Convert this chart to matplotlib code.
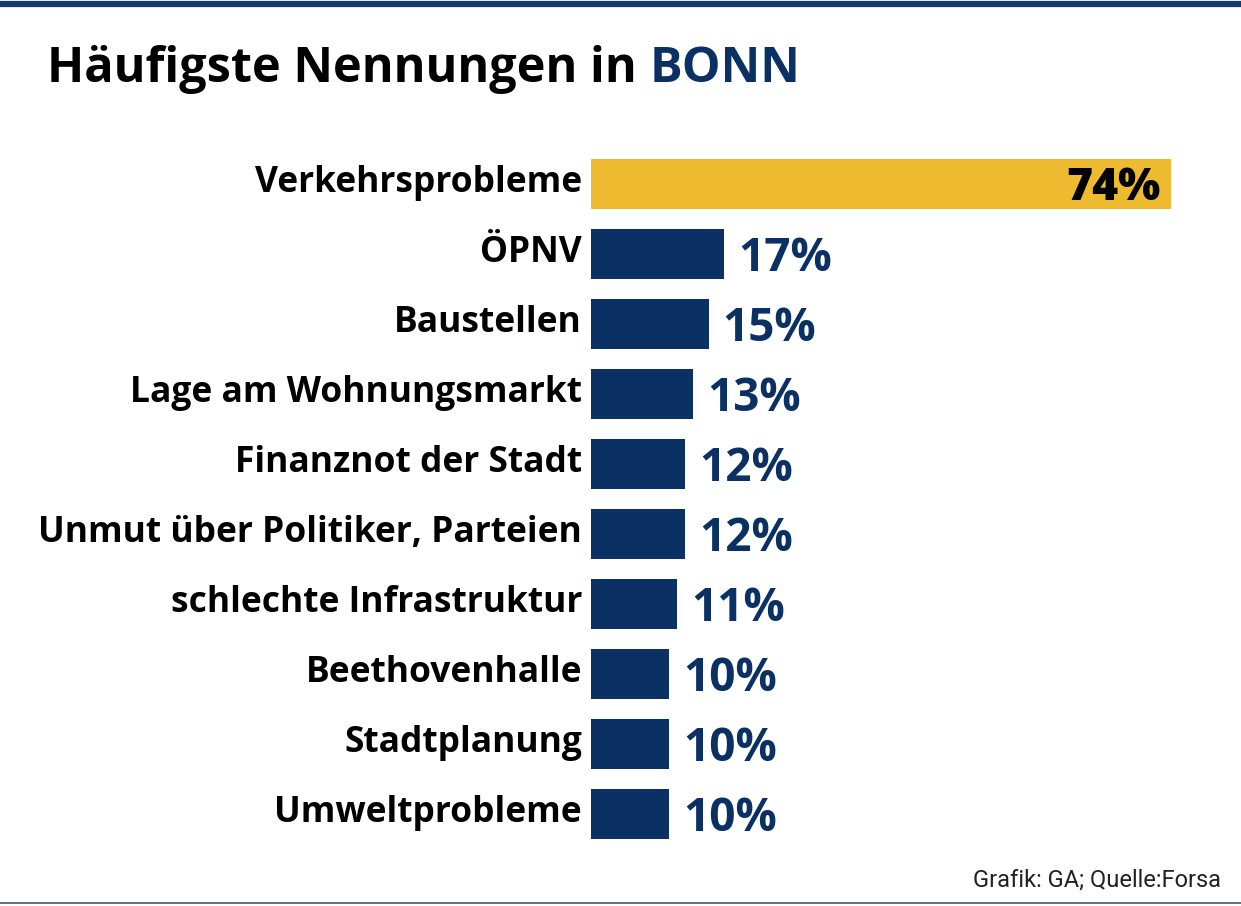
import matplotlib.pyplot as plt
from matplotlib.lines import Line2D

# data
categories = ['Verkehrsprobleme', 'ÖPNV', 'Baustellen', 'Lage am Wohnungsmarkt',
              'Finanznot der Stadt', 'Unmut über Politiker, Parteien',
              'schlechte Infrastruktur', 'Beethovenhalle', 'Stadtplanung',
              'Umweltprobleme']
values = [74, 17, 15, 13, 12, 12, 11, 10, 10, 10]
value_labels = ['74%', '17%', '15%', '13%', '12%', '12%', '11%', '10%', '10%', '10%']

NAVY = '#0b3063'
GOLD = '#edba30'
W, H = 1241, 906

fig = plt.figure(figsize=(W / 100, H / 100), dpi=100)

# axes placed in pixel coords: bars start at x=591, 74% ends at x=1171
x0, x1 = 591, 1171
y_top, y_bot = 149, 849
ax = fig.add_axes([x0 / W, 1 - y_bot / H, (x1 - x0) / W, (y_bot - y_top) / H])
ax.set_xlim(0, 74)
ax.set_ylim(len(values) - 0.5, -0.5)
ax.axis('off')

colors = [GOLD] + [NAVY] * (len(values) - 1)
ax.barh(range(len(values)), values, height=50 / 70, color=colors)

font = ['Open Sans', 'DejaVu Sans']
for i, (cat, v, lab) in enumerate(zip(categories, values, value_labels)):
    ax.text(-1.15, i - 0.02, cat, ha='right', va='center', fontsize=25.5,
            fontweight='bold', family=font, color='black')
    if i == 0:
        ax.text(v - 1.4, i + 0.06, lab, ha='right', va='center', fontsize=32,
                fontweight='heavy', family=font, color='black')
    else:
        ax.text(v + 1.8, i + 0.06, lab, ha='left', va='center', fontsize=33,
                fontweight='bold', family=font, color=NAVY)

# title
title_left = fig.text(47 / W, 1 - 82 / H, 'Häufigste Nennungen in ', fontsize=35,
                      fontweight='bold', family=font, color='black', va='baseline')
fig.canvas.draw()
bb = title_left.get_window_extent()
fig.text(bb.x1 / W, 1 - 82 / H, 'BONN', fontsize=35, fontweight='bold',
         family=font, color=NAVY, va='baseline')

# source
fig.text(1221 / W, 1 - 887 / H, 'Grafik: GA; Quelle:Forsa', fontsize=17,
         family=['Roboto', 'DejaVu Sans'], ha='right',
         va='baseline', color='#222222')

# top and bottom rules
fig.add_artist(Line2D([0, 1], [1 - 4 / H, 1 - 4 / H], transform=fig.transFigure,
                      color='#133a6a', linewidth=4.5))
fig.add_artist(Line2D([0, 1], [1 - 903 / H, 1 - 903 / H], transform=fig.transFigure,
                      color='#4a5a6e', linewidth=1.2))

fig.savefig('out.png', dpi=100)
